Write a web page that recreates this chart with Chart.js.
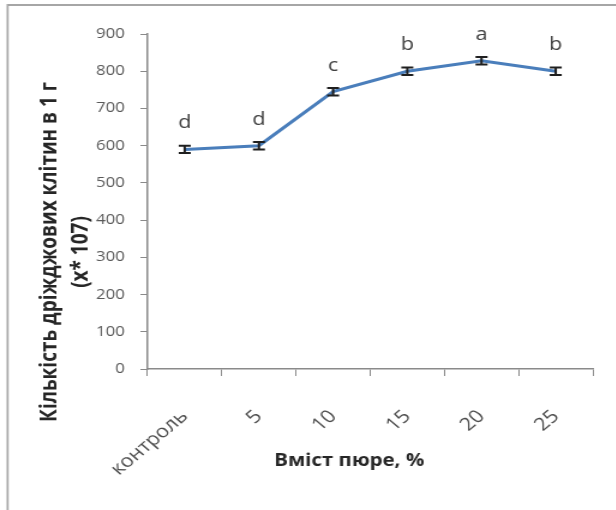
<!DOCTYPE html>
<html>
<head>
<meta charset="utf-8">
<script src="https://cdn.jsdelivr.net/npm/chart.js@4.4.1/dist/chart.umd.min.js"></script>
<style>
  html, body { margin: 0; padding: 0; background: #fff; overflow: hidden; }
  /* the source picture is a little wider than tall in its glyphs, so stretch */
  #wrap { width: 513px; height: 510px; transform: scaleX(1.2); transform-origin: 0 0; }
</style>
</head>
<body>
<div id="wrap"><canvas id="myChart" width="513" height="510"></canvas></div>
<script>
const categories = ['контроль', '5', '10', '15', '20', '25'];
const cellCounts = [590, 600, 745, 800, 828, 800];
const errors = [10, 10, 10, 10, 10, 10];
const letters = ['d', 'd', 'c', 'b', 'a', 'b'];

const yTitle = ['Кількість дріжджових клітин в 1 г', '(х* 107)'];
const xTitle = 'Вміст пюре, %';

const axisGrey = '#8a8a8a';
const textGrey = '#595959';
const FONT = "'Open Sans'";

const extras = {
  id: 'extras',
  beforeDraw(chart) {
    const ctx = chart.ctx;
    ctx.save();
    ctx.fillStyle = '#a6a6a6';
    ctx.fillRect(6, 4, chart.width - 6, 2);   // frame top
    ctx.fillRect(5.5, 4, 1.7, chart.height);  // frame left
    ctx.restore();
  },
  afterDatasetsDraw(chart) {
    const ctx = chart.ctx;
    const xs = chart.scales.x, ys = chart.scales.y;
    ctx.save();
    ctx.strokeStyle = '#1f1f1f';
    ctx.lineWidth = 2;
    cellCounts.forEach((v, i) => {
      const x = xs.getPixelForValue(i);
      const top = ys.getPixelForValue(v + errors[i]);
      const bot = ys.getPixelForValue(v - errors[i]);
      ctx.beginPath();
      ctx.moveTo(x, top); ctx.lineTo(x, bot);
      ctx.moveTo(x - 5, top); ctx.lineTo(x + 5, top);
      ctx.moveTo(x - 5, bot); ctx.lineTo(x + 5, bot);
      ctx.stroke();
    });
    ctx.fillStyle = '#404040';
    ctx.font = '18px ' + FONT;
    ctx.textAlign = 'center';
    ctx.textBaseline = 'alphabetic';
    letters.forEach((t, i) => {
      ctx.fillText(t, xs.getPixelForValue(i), ys.getPixelForValue(cellCounts[i]) - 21);
    });
    ctx.restore();
  },
  afterDraw(chart) {
    const ctx = chart.ctx;
    ctx.save();
    ctx.fillStyle = '#262626';
    ctx.textAlign = 'center';
    ctx.textBaseline = 'middle';
    ctx.font = 'bold 17px ' + FONT;
    ctx.fillText(xTitle, 291, 461);
    ctx.translate(0, 252);
    ctx.rotate(-Math.PI / 2);
    ctx.font = 'bold 19px ' + FONT;
    ctx.fillText(yTitle[0], 0, 42);
    ctx.fillText(yTitle[1], 0, 68);
    ctx.restore();
  }
};

const config = {
  type: 'line',
  data: {
    labels: categories,
    datasets: [{
      label: 'Кількість клітин',
      data: cellCounts,
      borderColor: '#4a7ebb',
      backgroundColor: '#4a7ebb',
      borderWidth: 3,
      pointRadius: 0,
      tension: 0
    }]
  },
  options: {
    responsive: false,
    animation: false,
    devicePixelRatio: 1,
    layout: { padding: { top: 34, right: 19, left: 0, bottom: 0 } },
    plugins: { legend: { display: false }, tooltip: { enabled: false } },
    scales: {
      x: {
        offset: true,
        grid: { drawOnChartArea: false, drawTicks: true, tickLength: 7, color: axisGrey, offset: true },
        border: { display: true, color: axisGrey, width: 1.5 },
        ticks: { maxRotation: 45, minRotation: 45, color: '#4d4d4d', padding: 30, font: { family: FONT, size: 18 } },
        afterFit(s) { s.height = 141; }
      },
      y: {
        min: 0,
        max: 900,
        grid: { drawOnChartArea: false, drawTicks: true, tickLength: 6, color: axisGrey },
        border: { display: true, color: axisGrey, width: 1.5 },
        ticks: { stepSize: 100, color: textGrey, padding: 13, font: { family: FONT, size: 14 } },
        afterFit(s) { s.width = 123; }
      }
    }
  },
  plugins: [extras]
};

var myChart = new Chart(document.getElementById('myChart'), config);
</script>
</body>
</html>
